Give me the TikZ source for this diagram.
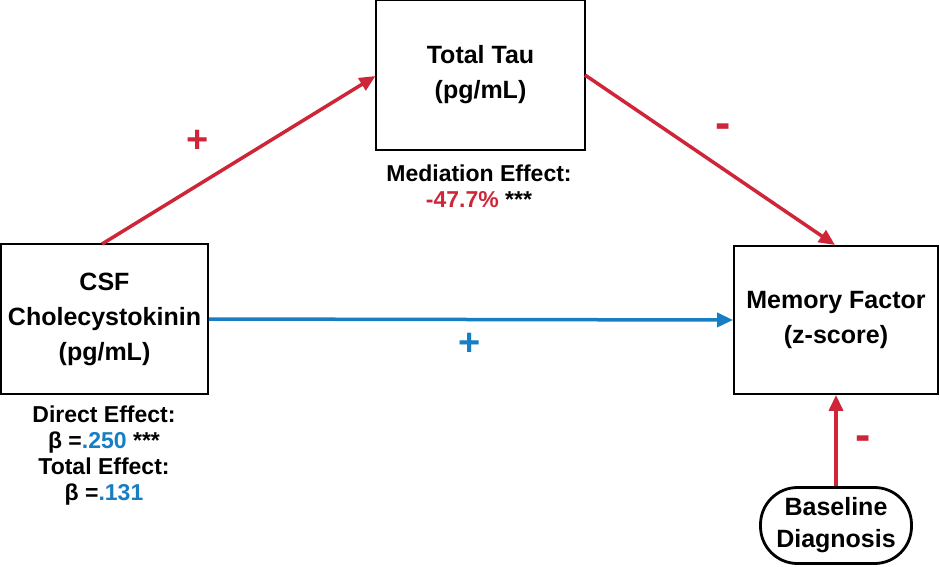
\documentclass[tikz,border=0pt]{standalone}
\usepackage{fontspec}
\setmainfont{Liberation Sans}
\usetikzlibrary{arrows.meta}
\definecolor{myred}{RGB}{206,38,56}
\definecolor{myblue}{RGB}{24,126,196}
\begin{document}
\begin{tikzpicture}[x=1pt,y=-1pt,
  box/.style={draw=black,line width=1.8pt,fill=white,minimum width=#1,align=center,font=\fontsize{25}{35}\selectfont\bfseries,inner sep=0pt},
  lab/.style={align=center,font=\fontsize{23}{26}\selectfont\bfseries,inner sep=0pt},
  sign/.style={font=\fontsize{38}{38}\selectfont\bfseries,inner sep=0pt},
  msign/.style={font=\fontsize{46}{46}\selectfont\bfseries,inner sep=0pt},
  arr/.style={line width=3.5pt,-{Triangle[length=16pt,width=14pt]}}]
\useasboundingbox (0,0) rectangle (940,566);
\node[box=207pt,minimum height=150pt] (csf) at (104.5,319) {CSF\\Cholecystokinin\\(pg/mL)};
\node[box=209pt,minimum height=150pt] (tau) at (480.5,75) {Total Tau\\(pg/mL)};
\node[box=204pt,minimum height=148pt] (mem) at (836,320) {Memory Factor\\(z-score)};
\node[draw=black,line width=2.8pt,fill=white,rounded corners=37pt,minimum width=151pt,minimum height=76pt,align=center,inner sep=0pt,font=\fontsize{25}{32}\selectfont\bfseries] (base) at (836,525.5) {Baseline\\Diagnosis};
\coordinate (a1) at (102,244);
\coordinate (a2) at (375.5,76);
\coordinate (b1) at (585,75);
\coordinate (b2) at (835,245);
\draw[arr,myred] (a1) -- (a2);
\draw[arr,myred] (b1) -- (b2);
\draw[arr,myblue] (csf.east) -- (mem.west);
\draw[arr,myred] (base.north) -- (mem.south);
\node[sign,myred] (p1) at (198,141) {+};
\node[msign,myred] (m1) at (723,131) {-};
\node[sign,myblue] (p2) at (470,344) {+};
\node[msign,myred] (m2) at (863.5,443.5) {-};
\node[lab] (med) at (479,186) {Mediation Effect:\\\textcolor{myred}{-47.7\%} ***};
\node[lab] (eff) at (104,456) {Direct Effect:\\β =\textcolor{myblue}{.250} ***\\Total Effect:\\β =\textcolor{myblue}{.131}};
\end{tikzpicture}
\end{document}
